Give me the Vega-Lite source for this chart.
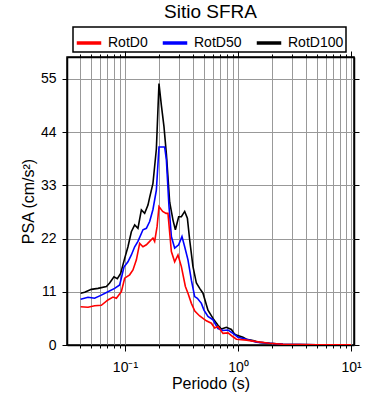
{
  "$schema": "https://vega.github.io/schema/vega-lite/v6.json",
  "width": 287,
  "height": 288,
  "autosize": {"type": "none"},
  "padding": {"left": 67, "top": 57, "right": 36, "bottom": 55},
  "background": "white",
  "config": {
    "view": {"stroke": "black", "strokeWidth": 1.5},
    "font": "Liberation Sans",
    "legend": {"strokeWidth": 1.5}
  },
  "title": {"text": "Sitio SFRA", "fontSize": 19, "fontWeight": "normal", "font": "Liberation Sans", "color": "black", "offset": 4},
  "data": {"values": [
    {"s":"RotD100","T":0.0405,"v":10.7},{"s":"RotD100","T":0.044,"v":10.9},{"s":"RotD100","T":0.0504,"v":11.5},{"s":"RotD100","T":0.0577,"v":11.7},{"s":"RotD100","T":0.0685,"v":12.1},{"s":"RotD100","T":0.0732,"v":12.8},{"s":"RotD100","T":0.0799,"v":14.1},{"s":"RotD100","T":0.0856,"v":13.7},{"s":"RotD100","T":0.0916,"v":14.8},{"s":"RotD100","T":0.0994,"v":17.9},{"s":"RotD100","T":0.1063,"v":20.3},{"s":"RotD100","T":0.1139,"v":23.4},{"s":"RotD100","T":0.1219,"v":24.8},{"s":"RotD100","T":0.1303,"v":24.1},{"s":"RotD100","T":0.1397,"v":27.9},{"s":"RotD100","T":0.1494,"v":27.2},{"s":"RotD100","T":0.1598,"v":28.9},{"s":"RotD100","T":0.1654,"v":30.5},{"s":"RotD100","T":0.1769,"v":33.4},{"s":"RotD100","T":0.1896,"v":40.5},{"s":"RotD100","T":0.2,"v":54.0},{"s":"RotD100","T":0.21,"v":49.5},{"s":"RotD100","T":0.2214,"v":45.1},{"s":"RotD100","T":0.2325,"v":39.5},{"s":"RotD100","T":0.2487,"v":29.5},{"s":"RotD100","T":0.266,"v":25.8},{"s":"RotD100","T":0.2793,"v":23.8},{"s":"RotD100","T":0.2987,"v":26.5},{"s":"RotD100","T":0.3156,"v":26.5},{"s":"RotD100","T":0.3376,"v":27.6},{"s":"RotD100","T":0.3567,"v":26.2},{"s":"RotD100","T":0.3738,"v":21.7},{"s":"RotD100","T":0.3998,"v":16.2},{"s":"RotD100","T":0.4285,"v":12.8},{"s":"RotD100","T":0.4583,"v":11.7},{"s":"RotD100","T":0.49,"v":10.7},{"s":"RotD100","T":0.5425,"v":7.2},{"s":"RotD100","T":0.6009,"v":5.5},{"s":"RotD100","T":0.6653,"v":4.1},{"s":"RotD100","T":0.713,"v":3.3},{"s":"RotD100","T":0.7896,"v":3.66},{"s":"RotD100","T":0.8741,"v":3.2},{"s":"RotD100","T":0.93,"v":2.3},{"s":"RotD100","T":0.9678,"v":2.07},{"s":"RotD100","T":1.107,"v":1.6},{"s":"RotD100","T":1.187,"v":1.2},{"s":"RotD100","T":1.358,"v":0.9},{"s":"RotD100","T":1.455,"v":0.7},{"s":"RotD100","T":1.556,"v":0.55},{"s":"RotD100","T":1.908,"v":0.35},{"s":"RotD100","T":2.5,"v":0.15},{"s":"RotD100","T":3.5,"v":0.08},{"s":"RotD100","T":5,"v":0.05},{"s":"RotD100","T":7,"v":0.03},{"s":"RotD100","T":10,"v":0.02},
    {"s":"RotD50","T":0.0405,"v":9.45},{"s":"RotD50","T":0.0471,"v":9.86},{"s":"RotD50","T":0.0539,"v":9.65},{"s":"RotD50","T":0.0618,"v":10.3},{"s":"RotD50","T":0.0707,"v":11.0},{"s":"RotD50","T":0.0811,"v":11.7},{"s":"RotD50","T":0.0898,"v":12.4},{"s":"RotD50","T":0.098,"v":16.1},{"s":"RotD50","T":0.1063,"v":17.2},{"s":"RotD50","T":0.1139,"v":18.6},{"s":"RotD50","T":0.1219,"v":20.3},{"s":"RotD50","T":0.1303,"v":21.4},{"s":"RotD50","T":0.1443,"v":23.8},{"s":"RotD50","T":0.1547,"v":24.1},{"s":"RotD50","T":0.1654,"v":25.5},{"s":"RotD50","T":0.1769,"v":28.0},{"s":"RotD50","T":0.1896,"v":32.0},{"s":"RotD50","T":0.2,"v":40.9},{"s":"RotD50","T":0.2246,"v":40.9},{"s":"RotD50","T":0.2325,"v":38.3},{"s":"RotD50","T":0.245,"v":28.8},{"s":"RotD50","T":0.2574,"v":22.4},{"s":"RotD50","T":0.2753,"v":20.0},{"s":"RotD50","T":0.2987,"v":20.7},{"s":"RotD50","T":0.3195,"v":22.4},{"s":"RotD50","T":0.3376,"v":20.3},{"s":"RotD50","T":0.361,"v":17.6},{"s":"RotD50","T":0.3869,"v":13.4},{"s":"RotD50","T":0.4138,"v":10.0},{"s":"RotD50","T":0.4373,"v":9.65},{"s":"RotD50","T":0.4744,"v":8.6},{"s":"RotD50","T":0.5,"v":7.2},{"s":"RotD50","T":0.5425,"v":5.9},{"s":"RotD50","T":0.6009,"v":5.2},{"s":"RotD50","T":0.6653,"v":3.4},{"s":"RotD50","T":0.7367,"v":3.0},{"s":"RotD50","T":0.8159,"v":3.1},{"s":"RotD50","T":0.9032,"v":2.4},{"s":"RotD50","T":1.0,"v":1.6},{"s":"RotD50","T":1.187,"v":1.2},{"s":"RotD50","T":1.455,"v":0.6},{"s":"RotD50","T":1.9,"v":0.35},{"s":"RotD50","T":2.5,"v":0.15},{"s":"RotD50","T":3.5,"v":0.08},{"s":"RotD50","T":5,"v":0.05},{"s":"RotD50","T":7,"v":0.03},{"s":"RotD50","T":10,"v":0.02},
    {"s":"RotD0","T":0.0405,"v":7.9},{"s":"RotD0","T":0.0471,"v":7.8},{"s":"RotD0","T":0.0539,"v":8.1},{"s":"RotD0","T":0.0618,"v":8.2},{"s":"RotD0","T":0.0707,"v":9.3},{"s":"RotD0","T":0.0783,"v":9.9},{"s":"RotD0","T":0.0839,"v":9.65},{"s":"RotD0","T":0.0929,"v":11.0},{"s":"RotD0","T":0.0994,"v":13.8},{"s":"RotD0","T":0.11,"v":14.5},{"s":"RotD0","T":0.1177,"v":15.5},{"s":"RotD0","T":0.1262,"v":17.6},{"s":"RotD0","T":0.1349,"v":21.0},{"s":"RotD0","T":0.1443,"v":20.3},{"s":"RotD0","T":0.1547,"v":20.7},{"s":"RotD0","T":0.1654,"v":21.4},{"s":"RotD0","T":0.1769,"v":22.1},{"s":"RotD0","T":0.1831,"v":21.4},{"s":"RotD0","T":0.1925,"v":24.5},{"s":"RotD0","T":0.2,"v":28.6},{"s":"RotD0","T":0.2155,"v":27.6},{"s":"RotD0","T":0.231,"v":27.2},{"s":"RotD0","T":0.2402,"v":27.2},{"s":"RotD0","T":0.2574,"v":19.3},{"s":"RotD0","T":0.2753,"v":17.2},{"s":"RotD0","T":0.2945,"v":18.6},{"s":"RotD0","T":0.3156,"v":16.2},{"s":"RotD0","T":0.3424,"v":12.1},{"s":"RotD0","T":0.361,"v":10.7},{"s":"RotD0","T":0.3869,"v":8.6},{"s":"RotD0","T":0.415,"v":7.0},{"s":"RotD0","T":0.4583,"v":6.0},{"s":"RotD0","T":0.5251,"v":5.0},{"s":"RotD0","T":0.5816,"v":4.5},{"s":"RotD0","T":0.6221,"v":3.5},{"s":"RotD0","T":0.6653,"v":3.8},{"s":"RotD0","T":0.7367,"v":2.4},{"s":"RotD0","T":0.8159,"v":2.5},{"s":"RotD0","T":0.9032,"v":1.7},{"s":"RotD0","T":0.9678,"v":1.2},{"s":"RotD0","T":1.187,"v":1.0},{"s":"RotD0","T":1.455,"v":0.7},{"s":"RotD0","T":1.9,"v":0.35},{"s":"RotD0","T":2.5,"v":0.15},{"s":"RotD0","T":3.5,"v":0.08},{"s":"RotD0","T":5,"v":0.05},{"s":"RotD0","T":7,"v":0.03},{"s":"RotD0","T":10,"v":0.02}
  ]},
  "layer": [
    {
      "mark": {"type": "line", "strokeWidth": 1.6, "clip": true},
      "encoding": {
        "x": {
          "field": "T", "type": "quantitative",
          "scale": {"type": "log", "domain": [0.0307, 10.63], "nice": false},
          "axis": {
            "orient": "bottom",
            "values": [0.04,0.05,0.06,0.07,0.08,0.09,0.1,0.2,0.3,0.4,0.5,0.6,0.7,0.8,0.9,1,2,3,4,5,6,7,8,9,10],
            "labelExpr": "datum.value == 0.1 ? '10⁻¹' : datum.value == 1 ? '10⁰' : datum.value == 10 ? '10¹' : ''",
            "labelOverlap": false, "labelFlush": false, "labelBound": false,
            "labelFontSize": 14, "labelColor": "black", "labelPadding": 9,
            "grid": true, "gridColor": "#999999", "gridWidth": 1, "gridOpacity": 1,
            "tickColor": "black", "tickWidth": 1,
            "tickSize": {"condition": {"test": "datum.value == 0.1 || datum.value == 1 || datum.value == 10", "value": 6}, "value": 3},
            "domain": true, "domainColor": "black", "domainWidth": 1.5,
            "title": "Periodo (s)", "titleFontSize": 16, "titleFontWeight": "normal", "titleColor": "black", "titlePadding": 1
          }
        },
        "y": {
          "field": "v", "type": "quantitative",
          "scale": {"domain": [0, 59.5], "nice": false},
          "axis": {
            "orient": "left",
            "values": [0, 11, 22, 33, 44, 55],
            "labelFontSize": 14, "labelColor": "black", "labelPadding": 6,
            "grid": true, "gridColor": "#999999", "gridWidth": 1, "gridOpacity": 1,
            "tickColor": "black", "tickSize": 5, "tickWidth": 1,
            "domain": true, "domainColor": "black", "domainWidth": 1.5,
            "title": "PSA (cm/s²)", "titleFontSize": 16, "titleFontWeight": "normal", "titleColor": "black", "titlePadding": 4
          }
        },
        "color": {
          "field": "s", "type": "nominal",
          "scale": {"domain": ["RotD0", "RotD50", "RotD100"], "range": ["#ff0000", "#0000ff", "#000000"]},
          "legend": {
            "orient": "none", "legendX": 6, "legendY": -30, "direction": "horizontal",
            "title": null, "strokeColor": "black", "padding": 2,
            "symbolType": "stroke", "symbolSize": 600, "symbolStrokeWidth": 3.5,
            "labelFontSize": 14, "labelColor": "black", "labelOffset": 5, "columnPadding": 7
          }
        }
      }
    },
    {
      "mark": {"type": "line", "opacity": 0},
      "encoding": {
        "x": {
          "field": "T", "type": "quantitative",
          "scale": {"type": "log", "domain": [0.0307, 10.63], "nice": false},
          "axis": {
            "orient": "top",
            "values": [0.04,0.05,0.06,0.07,0.08,0.09,0.1,0.2,0.3,0.4,0.5,0.6,0.7,0.8,0.9,1,2,3,4,5,6,7,8,9,10],
            "labels": false, "grid": false, "title": null,
            "tickColor": "black", "tickWidth": 1,
            "tickSize": {"condition": {"test": "datum.value == 0.1 || datum.value == 1 || datum.value == 10", "value": 6}, "value": 3},
            "domainColor": "black", "domainWidth": 1.5
          }
        },
        "y": {
          "field": "v", "type": "quantitative",
          "scale": {"domain": [0, 59.5], "nice": false},
          "axis": {
            "orient": "right", "values": [0, 11, 22, 33, 44, 55],
            "labels": false, "grid": false, "title": null,
            "tickColor": "black", "tickSize": 5, "tickWidth": 1,
            "domainColor": "black", "domainWidth": 1.5
          }
        },
        "detail": {"field": "s"}
      }
    }
  ],
  "resolve": {"axis": {"x": "independent", "y": "independent"}}
}
